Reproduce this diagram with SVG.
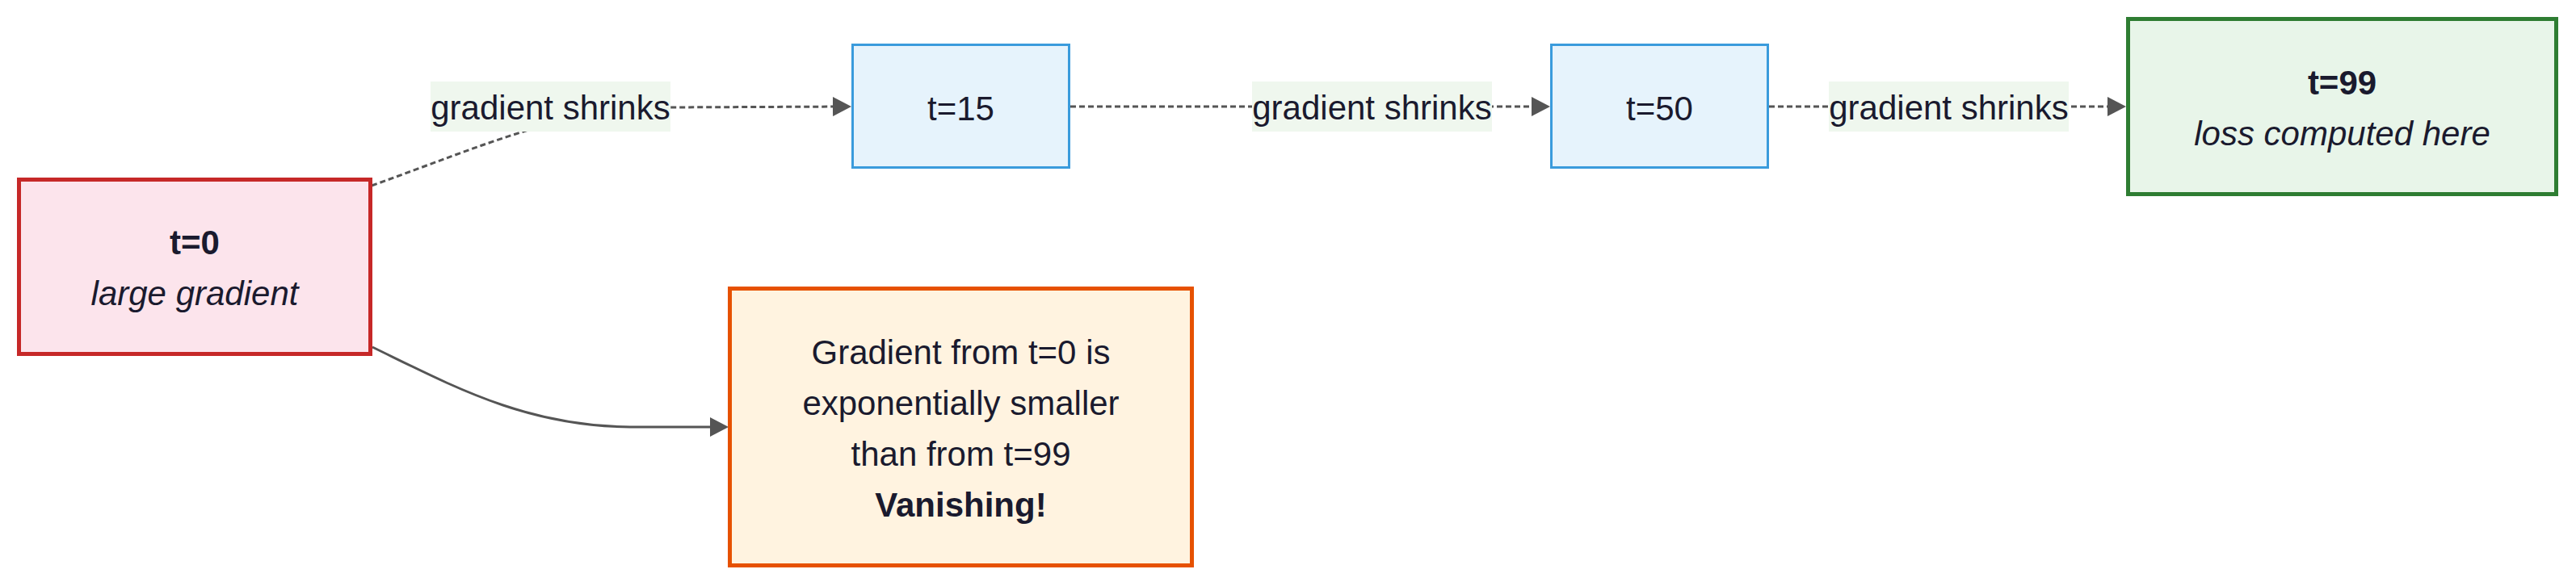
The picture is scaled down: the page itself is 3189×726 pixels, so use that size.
<svg xmlns="http://www.w3.org/2000/svg" width="3189" height="726" viewBox="0 0 3189 726">
<style>
  text { font-family: "Liberation Sans", Arial, sans-serif; font-size: 42px; fill: #1a1a2e; text-anchor: middle; }
  .b { font-weight: bold; }
  .i { font-style: italic; }
  .edge { fill: none; stroke: #555555; stroke-width: 3; }
  .dot { stroke-dasharray: 7 4; }
  .lbl { fill: #eff7ee; }
  .blue { fill: #e6f3fc; stroke: #3a9bdc; stroke-width: 3; }
</style>
<defs>
  <marker id="arr" markerUnits="userSpaceOnUse" markerWidth="24" markerHeight="24" refX="18" refY="12" orient="auto">
    <path d="M0,0 L23,12 L0,24 z" fill="#555555"/>
  </marker>
</defs>
<rect width="3189" height="726" fill="#ffffff"/>
<g id="connectors">
  <path class="edge dot" d="M460,230 C600,180 700,133 830,133 L1049,132" marker-end="url(#arr)"/>
  <path class="edge dot" d="M1325,132 L1914,132" marker-end="url(#arr)"/>
  <path class="edge dot" d="M2190,132 L2627,132" marker-end="url(#arr)"/>
  <path class="edge" d="M461,430 C560,478 650,528 780,529 L897,529" marker-end="url(#arr)"/>
  <g id="label1">
    <rect class="lbl" x="533" y="101" width="297" height="62"/>
    <text x="681.5" y="148">gradient shrinks</text>
  </g>
  <g id="label2">
    <rect class="lbl" x="1550" y="101" width="297" height="62"/>
    <text x="1698.5" y="148">gradient shrinks</text>
  </g>
  <g id="label3">
    <rect class="lbl" x="2264" y="101" width="297" height="62"/>
    <text x="2412.5" y="148">gradient shrinks</text>
  </g>
</g>
<g id="t0">
  <rect x="23.5" y="222.5" width="435" height="216" fill="#fce4ec" stroke="#c62828" stroke-width="5"/>
  <text class="b" x="241" y="315">t=0</text>
  <text class="i" x="241" y="378">large gradient</text>
</g>
<g id="t15">
  <rect class="blue" x="1055.5" y="55.5" width="268" height="152"/>
  <text x="1189.5" y="149">t=15</text>
</g>
<g id="t50">
  <rect class="blue" x="1920.5" y="55.5" width="268" height="152"/>
  <text x="2054.5" y="149">t=50</text>
</g>
<g id="t99">
  <rect x="2634.5" y="23.5" width="530" height="217" fill="#e8f5e9" stroke="#2e7d32" stroke-width="5"/>
  <text class="b" x="2899.5" y="117">t=99</text>
  <text class="i" x="2899.5" y="180">loss computed here</text>
</g>
<g id="vanishing">
  <rect x="903.5" y="357.5" width="572" height="343" fill="#fff3e0" stroke="#e65100" stroke-width="5"/>
  <text x="1189.5" y="451">Gradient from t=0 is</text>
  <text x="1189.5" y="514">exponentially smaller</text>
  <text x="1189.5" y="577">than from t=99</text>
  <text class="b" x="1189.5" y="640">Vanishing!</text>
</g>
</svg>
